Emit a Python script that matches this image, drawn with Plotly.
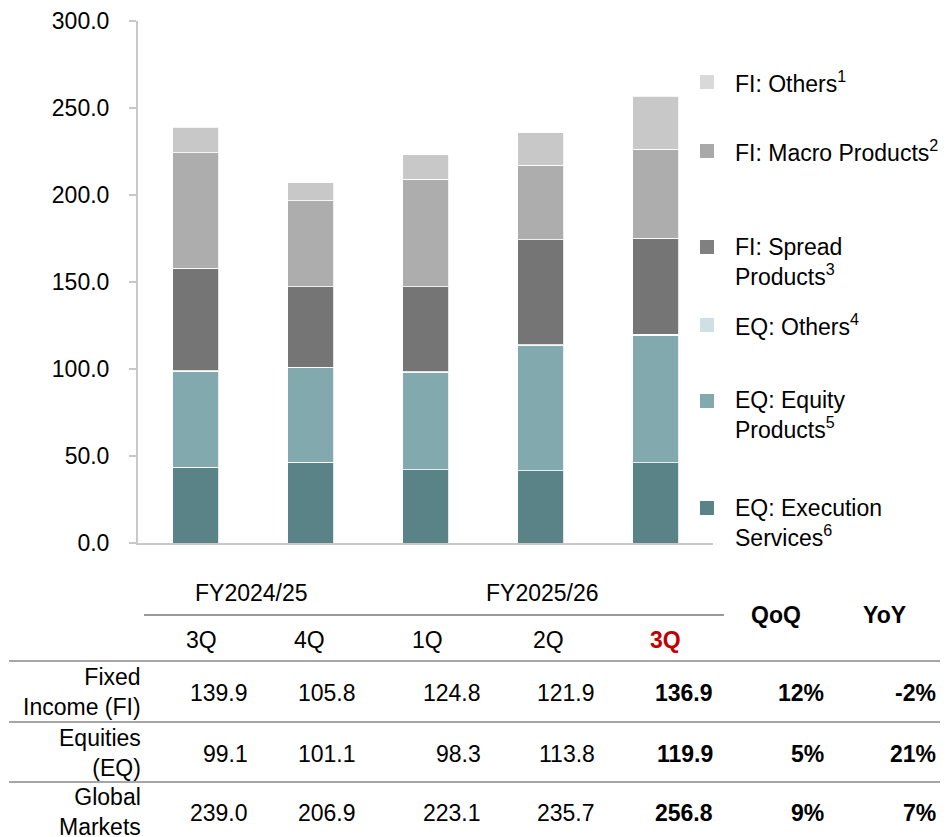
import plotly.graph_objects as go

# ----------------------------
# Data (JPY bn)
# ----------------------------
quarters = ["3Q FY24/25", "4Q FY24/25", "1Q FY25/26", "2Q FY25/26", "3Q FY25/26"]

eq_execution = [43.6, 46.5, 42.2, 41.6, 46.2]
eq_equity = [55.0, 54.1, 55.6, 71.7, 73.2]
eq_others = [0.5, 0.5, 0.5, 0.5, 0.5]
fi_spread = [58.8, 46.1, 49.1, 60.5, 55.3]
fi_macro = [66.5, 49.4, 61.6, 42.8, 51.1]
fi_others = [14.6, 10.3, 14.1, 18.6, 30.5]

# table
fiscal_years = ["FY2024/25", "FY2025/26"]
quarter_labels = ["3Q", "4Q", "1Q", "2Q", "3Q"]
row_labels = ["Fixed<br>Income (FI)", "Equities<br>(EQ)", "Global<br>Markets"]
fi_total = [139.9, 105.8, 124.8, 121.9, 136.9]
eq_total = [99.1, 101.1, 98.3, 113.8, 119.9]
gm_total = [239.0, 206.9, 223.1, 235.7, 256.8]
qoq = ["12%", "5%", "9%"]
yoy = ["-2%", "21%", "7%"]

# series: (name, values, bar colour, legend colour)
series = [
    ("EQ: Execution<br>Services<sup>6</sup>", eq_execution, "#5a8388", "#5a8388"),
    ("EQ: Equity<br>Products<sup>5</sup>", eq_equity, "#82a9ad", "#82a9ad"),
    ("EQ: Others<sup>4</sup>", eq_others, "#cfe0e3", "#cfe0e3"),
    ("FI: Spread<br>Products<sup>3</sup>", fi_spread, "#757575", "#808080"),
    ("FI: Macro Products<sup>2</sup>", fi_macro, "#adadad", "#a9a9a9"),
    ("FI: Others<sup>1</sup>", fi_others, "#c8c8c8", "#d9d9d9"),
]

# ----------------------------
# Geometry helpers (screen pixel -> paper)
# the page body adds an 8px margin, so the figure sits at (8, 8)
# ----------------------------
W, H = 949, 837
OFF = 8
X0, X1 = 138 - OFF, 713 - OFF   # plot area, figure pixels
Y0, Y1 = 21 - OFF, 543 - OFF


def px(x):
    return (x - OFF - X0) / (X1 - X0)


def py(y):
    return (Y1 - (y - OFF)) / (Y1 - Y0)


FONT = "Arial, Liberation Sans, sans-serif"
FS = 23

fig = go.Figure()

for name, vals, col, _ in series:
    fig.add_trace(
        go.Bar(
            x=quarters,
            y=vals,
            name=name,
            marker=dict(color=col, line=dict(color="rgba(255,255,255,0.8)", width=1)),
            showlegend=False,
        )
    )

annotations = []
shapes = []

# ----------------------------
# Hand-placed legend on the right
# ----------------------------
legend_pos = {  # marker y, text centre y
    "FI: Others<sup>1</sup>": (82, 82),
    "FI: Macro Products<sup>2</sup>": (151, 151),
    "FI: Spread<br>Products<sup>3</sup>": (247, 262),
    "EQ: Others<sup>4</sup>": (325, 325),
    "EQ: Equity<br>Products<sup>5</sup>": (401, 415),
    "EQ: Execution<br>Services<sup>6</sup>": (508, 523),
}
for name, vals, col, lcol in series:
    my, ty = legend_pos[name]
    shapes.append(dict(
        type="rect", xref="paper", yref="paper",
        x0=px(700), x1=px(714), y0=py(my + 7), y1=py(my - 7),
        fillcolor=lcol, line=dict(width=0),
    ))
    annotations.append(dict(
        text=name, xref="paper", yref="paper", x=px(733), y=py(ty),
        xanchor="left", yanchor="middle", align="left", showarrow=False,
        font=dict(size=FS, color="#000000"),
    ))

# ----------------------------
# Table under the chart
# ----------------------------
fy_x = [251, 542]
q_x = [201, 309, 427, 548, 665]
val_right = [250, 358, 483, 597, 715]
qoq_right, yoy_right = 826, 938


def txt(s, x, y, anchor="center", bold=False, color="#000000", align="center"):
    annotations.append(dict(
        text=f"<b>{s}</b>" if bold else s,
        xref="paper", yref="paper", x=px(x), y=py(y),
        xanchor=anchor, yanchor="middle", align=align, showarrow=False,
        font=dict(size=FS, color=color),
    ))


for fy, x in zip(fiscal_years, fy_x):
    txt(fy, x, 593)
for i, (q, x) in enumerate(zip(quarter_labels, q_x)):
    last = i == len(quarter_labels) - 1
    txt(q, x, 640, bold=last, color="#c00000" if last else "#000000")
txt("QoQ", 776, 615, bold=True)
txt("YoY", 884, 615, bold=True)

rows = [fi_total, eq_total, gm_total]
row_y = [693, 754, 813]
for r, (lab, vals, y) in enumerate(zip(row_labels, rows, row_y)):
    txt(lab, 143, y - 1, anchor="right", align="right")
    for i, (v, x) in enumerate(zip(vals, val_right)):
        txt(f"{v:.1f}", x, y, anchor="right", bold=(i == len(vals) - 1))
    txt(qoq[r], qoq_right, y, anchor="right", bold=True)
    txt(yoy[r], yoy_right, y, anchor="right", bold=True)

# header underline and row separators
shapes.append(dict(type="line", xref="paper", yref="paper",
                   x0=px(144), x1=px(724), y0=py(615), y1=py(615),
                   line=dict(color="#9a9a9a", width=2)))
for y in [661, 722, 782]:
    shapes.append(dict(type="line", xref="paper", yref="paper",
                       x0=px(9), x1=px(940), y0=py(y), y1=py(y),
                       line=dict(color="#a6a6a6", width=2)))

# ----------------------------
# Layout
# ----------------------------
fig.update_layout(
    width=W,
    height=H,
    barmode="stack",
    bargap=0.6,
    plot_bgcolor="white",
    paper_bgcolor="white",
    font=dict(family=FONT, size=FS, color="#000000"),
    margin=dict(l=X0, r=W - X1, t=Y0, b=H - Y1, pad=0, autoexpand=False),
    annotations=annotations,
    shapes=shapes,
)

fig.update_xaxes(
    showticklabels=False,
    ticks="",
    showline=True,
    linecolor="#c8c8c8",
    linewidth=2,
    showgrid=False,
    automargin=False,
)

fig.update_yaxes(
    range=[0, 300],
    tickvals=[0, 50, 100, 150, 200, 250, 300],
    tickformat=".1f",
    ticks="outside",
    ticklen=7,
    tickwidth=2,
    tickcolor="#c8c8c8",
    showline=True,
    linecolor="#c8c8c8",
    linewidth=2,
    showgrid=False,
    zeroline=False,
    ticklabelstandoff=15,
    tickfont=dict(size=FS, color="#000000"),
    automargin=False,
)

fig.write_html("out.html")
